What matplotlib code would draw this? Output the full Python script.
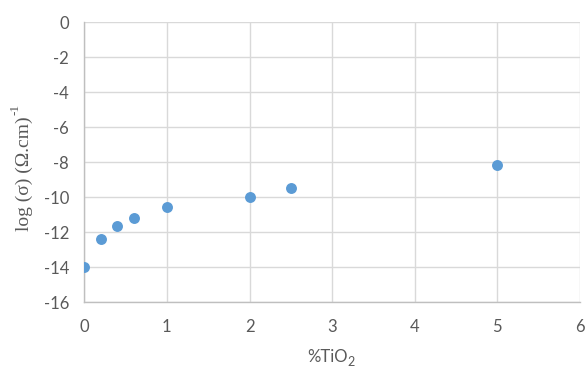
import numpy as np
import matplotlib
matplotlib.use('Agg')
from matplotlib import pyplot as plt

# % TiO2 content vs log conductivity
tio2 = [0, 0.2, 0.4, 0.6, 1, 2, 2.5, 5]
log_sigma = [-14.0, -12.38, -11.66, -11.18, -10.55, -10.0, -9.45, -8.15]

xticks = [0, 1, 2, 3, 4, 5, 6]
yticks = [0, -2, -4, -6, -8, -10, -12, -14, -16]

grey = '#595959'
gridc = '#d9d9d9'
sans = ['Lato', 'DejaVu Sans']
serif = ['Liberation Serif', 'DejaVu Serif']

fig = plt.figure(figsize=(5.87, 3.67), dpi=100)
ax = fig.add_axes([0.1436, 0.1763, 0.8444, 0.7629])

ax.scatter(tio2, log_sigma, s=62, c='#5b9bd5', zorder=3, linewidths=0)

ax.set_xlim(0, 6)
ax.set_ylim(-16, 0)
ax.set_xticks(xticks)
ax.set_yticks(yticks)
ax.set_xticklabels([str(t) for t in xticks], family=sans, fontsize=12, color=grey)
ax.set_yticklabels([str(t) for t in yticks], family=sans, fontsize=12, color=grey)
ax.tick_params(axis='x', length=0, pad=12)
ax.tick_params(axis='y', length=0, pad=11)

ax.grid(True, color=gridc, linewidth=1)
ax.set_axisbelow(True)
for side in ['top', 'right']:
    ax.spines[side].set_visible(False)
for side in ['left', 'bottom']:
    ax.spines[side].set_color('#bfbfbf')
    ax.spines[side].set_linewidth(1)

# y label: main text + superscript placed by hand
W, H = 587.0, 367.0
r = fig.canvas.get_renderer()
ylab = fig.text(33 / W, (H - 231) / H, 'log (σ) (Ω.cm)', rotation=90, ha='right', va='bottom',
                family=serif, fontsize=14, color=grey)
bb = ylab.get_window_extent(r)
fig.text((bb.x0 + 6) / W, (bb.y1 + 1) / H, '-1', rotation=90, ha='right', va='bottom',
         family=serif, fontsize=9.5, color=grey)

# x label: %TiO + subscript 2
xlab = fig.text(307 / W, 5 / H, '%TiO', ha='left', va='baseline',
                family=sans, fontsize=12, color=grey)
bb = xlab.get_window_extent(r)
fig.text((bb.x1 - 0.5) / W, 1 / H, '2', ha='left', va='baseline',
         family=sans, fontsize=9, color=grey)

fig.savefig('out.png', dpi=100)
